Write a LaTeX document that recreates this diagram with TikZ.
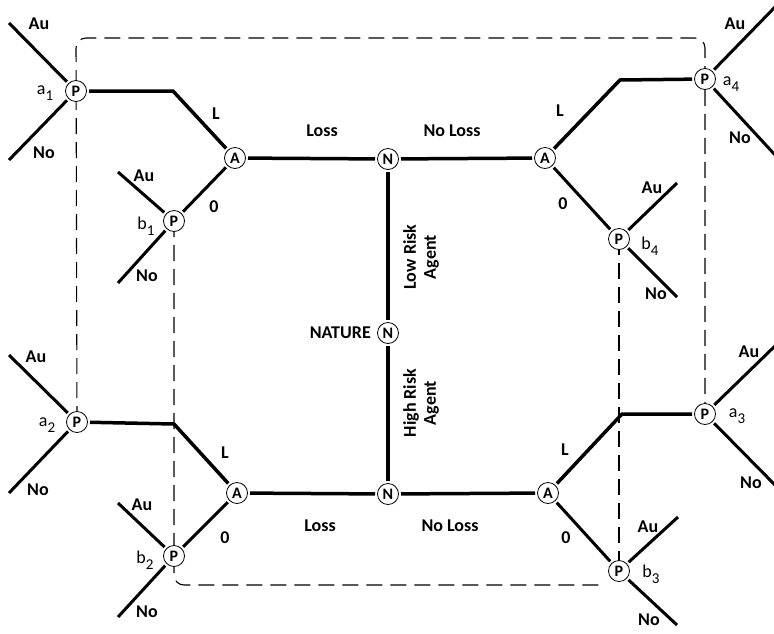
\documentclass[tikz,border=0pt]{standalone}
\usepackage{fontspec}
\setmainfont{Carlito}
\usetikzlibrary{backgrounds}
\newcommand{\lowidx}[1]{\raisebox{-0.32em}{\fontsize{15}{15}\selectfont #1}}
\begin{document}
\begin{tikzpicture}[x=1pt,y=-1pt,
  dec/.style={circle,draw,line width=0.8pt,fill=white,minimum size=21pt,inner sep=0pt,outer sep=2.5pt,
              font=\fontsize{16}{16}\selectfont\bfseries},
  move/.style={line width=3.5pt},
  act/.style={line width=3pt},
  info/.style={line width=1.1pt,dash pattern=on 16pt off 8pt,rounded corners=10pt},
  lbl/.style={font=\fontsize{18}{18}\selectfont\bfseries,inner sep=0pt},
  idx/.style={font=\fontsize{18}{18}\selectfont,inner sep=0pt}]
\useasboundingbox (0,0) rectangle (774,633);

% nature
\node[dec] (Nt) at (388,159) {N};
\node[dec] (Nm) at (388,333) {N};
\node[dec] (Nb) at (388,494) {N};
% agent
\node[dec] (Atl) at (235,158) {A};
\node[dec] (Atr) at (545,158) {A};
\node[dec] (Abl) at (237,493) {A};
\node[dec] (Abr) at (548,493) {A};
% principal
\node[dec] (a1) at (76,91) {P};
\node[dec] (b1) at (174,221) {P};
\node[dec] (a2) at (77,422) {P};
\node[dec] (b2) at (174,556) {P};
\node[dec] (a4) at (705,79) {P};
\node[dec] (b4) at (619,239) {P};
\node[dec] (a3) at (705,414) {P};
\node[dec] (b3) at (619,571) {P};

% bends and free ends
\coordinate (k1) at (173,91);
\coordinate (k2) at (174,424);
\coordinate (k4) at (620,80);
\coordinate (k3) at (622,414);
\coordinate (tl) at (76,38);
\coordinate (tr) at (705,38);
\coordinate (bl) at (174,585);
\coordinate (br) at (604,585);

\coordinate (a1u) at (9,23);   \coordinate (a1n) at (9,160);
\coordinate (b1u) at (118,172); \coordinate (b1n) at (118,283);
\coordinate (a2u) at (9,355);  \coordinate (a2n) at (9,493);
\coordinate (b2u) at (118,503); \coordinate (b2n) at (118,617);
\coordinate (a4u) at (776,6);  \coordinate (a4n) at (776,156);
\coordinate (b4u) at (677,183); \coordinate (b4n) at (677,297);
\coordinate (a3u) at (776,345); \coordinate (a3n) at (776,486);
\coordinate (b3u) at (678,517); \coordinate (b3n) at (677,625);

\begin{pgfonlayer}{background}
  % information sets
  \draw[info] (a2.center) -- (tl) -- (tr) -- (a3.center);
  \draw[info] (b1.center) -- (bl) -- (br);
  \draw[info] (b4.center) -- (b3.center);
\end{pgfonlayer}

% nature moves
\draw[move] (Nt) -- (Nm);
\draw[move] (Nm) -- (Nb);
\draw[move] (Atl) -- (Nt);
\draw[move] (Nt) -- (Atr);
\draw[move] (Abl) -- (Nb);
\draw[move] (Nb) -- (Abr);
% agent moves
\draw[move] (Atl) -- (k1) -- (a1);
\draw[move] (Abl) -- (k2) -- (a2);
\draw[move] (Atr) -- (k4) -- (a4);
\draw[move] (Abr) -- (k3) -- (a3);
\draw[act] (Atl) -- (b1);
\draw[act] (Abl) -- (b2);
\draw[act] (Atr) -- (b4);
\draw[act] (Abr) -- (b3);
% principal moves
\foreach \p in {a1,b1,a2,b2,a4,b4,a3,b3}{
  \draw[act] (\p) -- (\p u);
  \draw[act] (\p) -- (\p n);
}

% labels
\node[lbl] (lLt) at (322,131) {Loss};
\node[lbl] (lNLt) at (452,131) {No Loss};
\node[lbl] (lLb) at (320,526) {Loss};
\node[lbl] (lNLb) at (450,526) {No Loss};
\node[lbl,anchor=east] (lnat) at (371,333) {NATURE};
\node[lbl,rotate=90,align=center,font=\fontsize{18}{20}\selectfont\bfseries] (llow) at (421,257) {Low Risk\\Agent};
\node[lbl,rotate=90,align=center,font=\fontsize{18}{20}\selectfont\bfseries] (lhigh) at (421,403) {High Risk\\Agent};

\node[lbl] (L1) at (216,114) {L};
\node[lbl] (Z1) at (214,207) {0};
\node[lbl] (L2) at (225,453) {L};
\node[lbl] (Z2) at (225,538) {0};
\node[lbl] (L4) at (560,111) {L};
\node[lbl] (Z4) at (563,204) {0};
\node[lbl] (L3) at (565,450) {L};
\node[lbl] (Z3) at (566,538) {0};

\node[lbl] (ua1) at (39,24) {Au};  \node[lbl] (na1) at (44,153) {No};
\node[lbl] (ub1) at (144,176) {Au}; \node[lbl] (nb1) at (147,276) {No};
\node[lbl] (ua2) at (36,357) {Au};  \node[lbl] (na2) at (38,490) {No};
\node[lbl] (ub2) at (142,505) {Au}; \node[lbl] (nb2) at (147,612) {No};
\node[lbl] (ua4) at (735,24) {Au};  \node[lbl] (na4) at (740,138) {No};
\node[lbl] (ub4) at (652,188) {Au}; \node[lbl] (nb4) at (656,294) {No};
\node[lbl] (ua3) at (749,352) {Au}; \node[lbl] (na3) at (751,483) {No};
\node[lbl] (ub3) at (648,527) {Au}; \node[lbl] (nb3) at (649,620) {No};

\node[idx] (ia1) at (45,93) {a\lowidx{1}};
\node[idx] (ib1) at (146,226) {b\lowidx{1}};
\node[idx] (ia2) at (47,425) {a\lowidx{2}};
\node[idx] (ib2) at (145,560) {b\lowidx{2}};
\node[idx] (ia4) at (731,84) {a\lowidx{4}};
\node[idx] (ib4) at (650,246) {b\lowidx{4}};
\node[idx] (ia3) at (737,416) {a\lowidx{3}};
\node[idx] (ib3) at (651,574) {b\lowidx{3}};
\end{tikzpicture}
\end{document}
